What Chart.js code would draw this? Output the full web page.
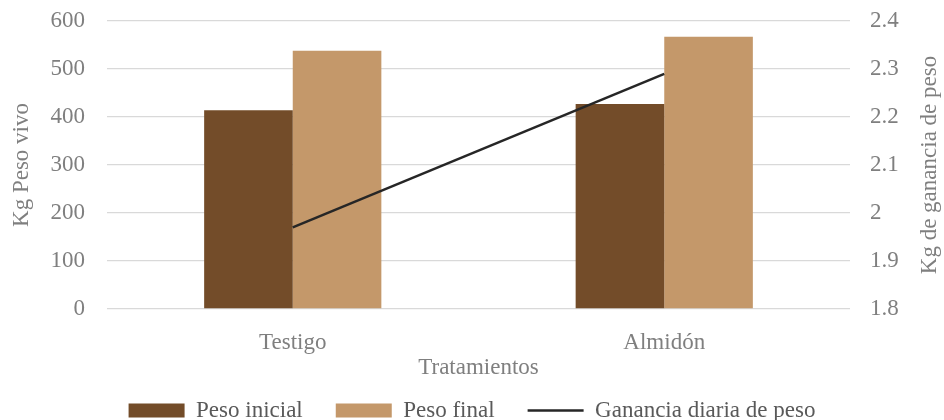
<!DOCTYPE html>
<html>
<head>
<meta charset="utf-8">
<script src="https://cdn.jsdelivr.net/npm/chart.js@4"></script>
<style>
html,body{margin:0;padding:0;background:#fff;}
#wrap{width:944px;height:420px;}
</style>
</head>
<body>
<div id="wrap"><canvas id="c"></canvas></div>
<script>
const categories = ["Testigo", "Almidón"];
const pesoInicial = [414, 427];
const pesoFinal = [538, 567];
const gananciaDiaria = [1.97, 2.29];
const seriesNames = ["Peso inicial", "Peso final", "Ganancia diaria de peso"];
const leftTitle = "Kg Peso vivo";
const rightTitle = "Kg de ganancia de peso";
const xTitle = "Tratamientos";

const FONT = '"Liberation Serif", "Times New Roman", serif';
const FS = 23;
const TXT = "#7f7f7f";

const rightTitlePlugin = {
  id: 'rightTitle',
  afterDraw(chart) {
    const s = chart.scales.y1;
    const ctx = chart.ctx;
    ctx.save();
    ctx.font = FS + "px " + FONT;
    ctx.fillStyle = TXT;
    ctx.textAlign = 'center';
    ctx.textBaseline = 'middle';
    ctx.translate(s.right - 14, (chart.chartArea.top + chart.chartArea.bottom) / 2);
    ctx.rotate(-Math.PI / 2);
    ctx.fillText(rightTitle, 0, 0);
    ctx.restore();
  }
};

function draw() {
  Chart.defaults.font.family = FONT;
  new Chart(document.getElementById('c'), {
    type: 'bar',
    data: {
      labels: categories,
      datasets: [
        { type: 'bar', label: seriesNames[0], data: pesoInicial, backgroundColor: '#734C29', yAxisID: 'y', order: 1,
          barPercentage: 1, categoryPercentage: 0.477, pointStyle: 'rect' },
        { type: 'bar', label: seriesNames[1], data: pesoFinal, backgroundColor: '#C4986A', yAxisID: 'y', order: 1,
          barPercentage: 1, categoryPercentage: 0.477, pointStyle: 'rect' },
        { type: 'line', label: seriesNames[2], data: gananciaDiaria, borderColor: '#262626', backgroundColor: '#262626',
          borderWidth: 2.5, pointRadius: 0, tension: 0, yAxisID: 'y1', order: 0, pointStyle: 'line' }
      ]
    },
    options: {
      responsive: true,
      maintainAspectRatio: false,
      animation: false,
      devicePixelRatio: 1,
      layout: { padding: { top: 21, left: 0, right: 0, bottom: -12 } },
      plugins: {
        tooltip: { enabled: false },
        legend: {
          position: 'bottom',
          labels: {
            font: { family: FONT, size: FS },
            color: '#595959',
            usePointStyle: true,
            pointStyleWidth: 56,
            boxWidth: 56,
            boxHeight: 14,
            padding: 33,
            sort: (a, b) => a.datasetIndex - b.datasetIndex
          }
        }
      },
      scales: {
        x: {
          grid: { display: false },
          border: { display: false },
          ticks: { font: { family: FONT, size: FS }, color: TXT, padding: 12 },
          title: { display: true, text: xTitle, font: { family: FONT, size: FS }, color: TXT, padding: { top: 0, bottom: -16 } },
          afterFit: s => { s.height = 57; }
        },
        y: {
          position: 'left',
          min: 0, max: 600,
          ticks: { stepSize: 100, font: { family: FONT, size: FS }, color: TXT, padding: 22 },
          grid: { color: '#d9d9d9', lineWidth: 1.3, drawTicks: false },
          border: { display: false },
          title: { display: true, text: leftTitle, font: { family: FONT, size: FS }, color: TXT, padding: { top: 8, bottom: 0 } },
          afterFit: s => { s.width = 107; s.paddingTop = 0; s.paddingBottom = 0; }
        },
        y1: {
          position: 'right',
          min: 1.8, max: 2.4,
          ticks: { stepSize: 0.1, font: { family: FONT, size: FS }, color: TXT, padding: 20,
            callback: v => String(Number(v.toFixed(1))) },
          grid: { display: false, drawTicks: false },
          border: { display: false },
          title: { display: true, text: rightTitle, font: { family: FONT, size: FS }, color: 'rgba(0,0,0,0)', padding: { top: 0, bottom: 4 } },
          afterFit: s => { s.width = 94; s.paddingTop = 0; s.paddingBottom = 0; }
        }
      }
    },
    plugins: [rightTitlePlugin]
  });
}

if (document.fonts && document.fonts.load) {
  document.fonts.load(FS + 'px "Liberation Serif"').then(draw, draw);
} else {
  draw();
}
</script>
</body>
</html>
